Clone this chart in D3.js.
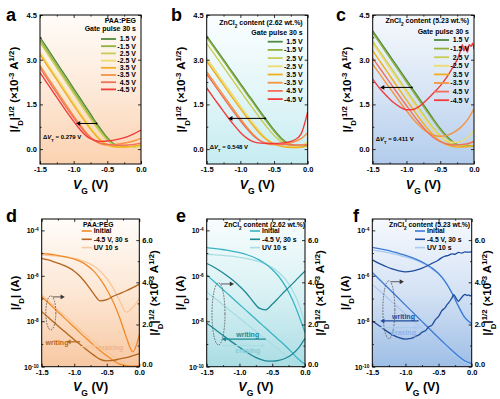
<!DOCTYPE html>
<html>
<head>
<meta charset="utf-8">
<script src="https://cdn.jsdelivr.net/npm/d3@7"></script>
<style>
body { margin: 0; background: #fff; }
svg { font-family: Arial, "Liberation Sans", sans-serif; font-weight: bold; }
</style>
</head>
<body>
<svg id="chart" width="500" height="399"></svg>
<script>
// gate voltage grid shared by most curves
const vg = [-1.5, -1.4, -1.3, -1.2, -1.1, -1.0, -0.9, -0.8, -0.7, -0.6, -0.5, -0.4, -0.3, -0.2, -0.1, 0.0];

const pulseLabels = ["1.5 V", "-1.5 V", "2.5 V", "-2.5 V", "3.5 V", "-3.5 V", "4.5 V", "-4.5 V"];
const pulseColors = ["#4f8a3c", "#8fb03c", "#c9cd55", "#eedb6c", "#f2ae1e", "#f49442", "#f2705a", "#f03c3c"];

// |ID|^1/2 (x10^-3 A^1/2), panel a
const aSeries = [
  [3.75, 3.41, 3.06, 2.72, 2.38, 2.03, 1.69, 1.35, 1.0, 0.68, 0.38, 0.17, 0.1, 0.08, 0.09, 0.12],
  [3.66, 3.32, 2.97, 2.63, 2.29, 1.94, 1.6, 1.26, 0.93, 0.62, 0.34, 0.15, 0.08, 0.07, 0.08, 0.1],
  [3.58, 3.24, 2.89, 2.55, 2.21, 1.86, 1.52, 1.18, 0.86, 0.56, 0.3, 0.13, 0.07, 0.06, 0.07, 0.09],
  [3.25, 2.91, 2.57, 2.23, 1.89, 1.55, 1.21, 0.88, 0.58, 0.32, 0.15, 0.08, 0.06, 0.06, 0.08, 0.12],
  [3.17, 2.83, 2.49, 2.15, 1.81, 1.47, 1.14, 0.82, 0.53, 0.29, 0.14, 0.08, 0.07, 0.08, 0.1, 0.15],
  [2.8, 2.46, 2.12, 1.78, 1.44, 1.11, 0.8, 0.52, 0.3, 0.18, 0.14, 0.15, 0.18, 0.22, 0.28, 0.36],
  [2.72, 2.38, 2.04, 1.7, 1.37, 1.05, 0.75, 0.49, 0.3, 0.2, 0.16, 0.14, 0.13, 0.14, 0.16, 0.2],
  [2.57, 2.23, 1.9, 1.57, 1.24, 0.93, 0.64, 0.42, 0.3, 0.26, 0.27, 0.3, 0.35, 0.42, 0.52, 0.64]
];

// panel b
const bSeries = [
  [3.8, 3.48, 3.16, 2.84, 2.52, 2.2, 1.88, 1.57, 1.25, 0.94, 0.64, 0.38, 0.2, 0.12, 0.1, 0.12],
  [3.75, 3.43, 3.11, 2.79, 2.47, 2.15, 1.83, 1.52, 1.2, 0.89, 0.6, 0.35, 0.18, 0.12, 0.12, 0.15],
  [3.55, 3.23, 2.91, 2.59, 2.27, 1.95, 1.63, 1.32, 1.01, 0.72, 0.46, 0.26, 0.14, 0.1, 0.12, 0.2],
  [3.05, 2.73, 2.41, 2.09, 1.77, 1.45, 1.14, 0.84, 0.56, 0.33, 0.18, 0.1, 0.07, 0.07, 0.1, 0.25],
  [2.95, 2.63, 2.31, 1.99, 1.67, 1.36, 1.05, 0.76, 0.5, 0.3, 0.17, 0.1, 0.06, 0.05, 0.06, 0.1],
  [2.6, 2.28, 1.96, 1.64, 1.33, 1.02, 0.73, 0.47, 0.28, 0.18, 0.15, 0.15, 0.18, 0.24, 0.35, 0.55],
  [2.52, 2.2, 1.88, 1.56, 1.25, 0.95, 0.67, 0.43, 0.27, 0.2, 0.18, 0.16, 0.15, 0.14, 0.14, 0.15],
  [2.05, 1.73, 1.42, 1.11, 0.82, 0.56, 0.36, 0.24, 0.2, 0.19, 0.19, 0.2, 0.23, 0.3, 0.5, 1.25]
];

// panel c (the -4.5 V curve is sampled more densely)
const cRedVg = [-1.5, -1.4, -1.3, -1.2, -1.1, -1.0, -0.9, -0.8, -0.7, -0.6, -0.5, -0.4, -0.3, -0.25, -0.2, -0.17, -0.15, -0.12, -0.1, -0.07, -0.04, -0.02, 0.0];
const cRed = [2.35, 2.05, 1.8, 1.58, 1.42, 1.32, 1.33, 1.45, 1.65, 1.88, 2.12, 2.42, 2.8, 3.0, 3.3, 3.5, 3.3, 3.45, 3.25, 3.5, 3.45, 3.55, 3.35];
const cSeries = [
  [3.97, 3.64, 3.31, 2.98, 2.65, 2.32, 1.99, 1.66, 1.33, 1.0, 0.69, 0.42, 0.22, 0.12, 0.1, 0.1],
  [3.9, 3.57, 3.24, 2.91, 2.58, 2.25, 1.92, 1.59, 1.27, 0.95, 0.65, 0.39, 0.2, 0.11, 0.1, 0.12],
  [3.62, 3.29, 2.96, 2.63, 2.3, 1.97, 1.64, 1.32, 1.0, 0.7, 0.44, 0.25, 0.14, 0.12, 0.15, 0.3],
  [3.55, 3.22, 2.89, 2.56, 2.23, 1.9, 1.57, 1.25, 0.94, 0.65, 0.42, 0.28, 0.22, 0.25, 0.38, 0.62],
  [3.3, 2.97, 2.64, 2.31, 1.98, 1.65, 1.33, 1.01, 0.72, 0.46, 0.27, 0.14, 0.08, 0.07, 0.08, 0.12],
  [2.85, 2.53, 2.21, 1.9, 1.59, 1.29, 1.0, 0.77, 0.58, 0.47, 0.43, 0.46, 0.56, 0.72, 0.97, 1.35],
  [3.05, 2.73, 2.41, 2.09, 1.77, 1.46, 1.15, 0.86, 0.6, 0.39, 0.25, 0.17, 0.14, 0.15, 0.18, 0.25],
  cRedVg.map((v, i) => [v, cRed[i]])
];

// bottom panels: |ID| (A) on log axis, |ID|^1/2 on right axis
const dInitLog = [9.8e-6, 9.1e-6, 8.3e-6, 7.4e-6, 6.5e-6, 5.4e-6, 4.2e-6, 2.8e-6, 1.6e-6, 7.1e-7, 2.5e-7, 7.1e-8, 1.4e-8, 2.0e-9, 4.5e-10, 2.5e-9];
const dWriteLog = [5.9e-6, 5.0e-6, 4.0e-6, 3.2e-6, 2.4e-6, 1.6e-6, 8.9e-7, 4.0e-7, 1.6e-7, 7.9e-8, 8.9e-8, 1.26e-7, 1.66e-7, 2.2e-7, 3.0e-7, 4.3e-7];
const dUvLog = [8.3e-6, 7.9e-6, 7.6e-6, 7.1e-6, 6.5e-6, 5.8e-6, 4.9e-6, 3.8e-6, 2.7e-6, 1.6e-6, 7.6e-7, 2.8e-7, 7.9e-8, 2.5e-8, 4.0e-8, 1.0e-7];
const dInitSqrt = [3.32, 3.03, 2.74, 2.45, 2.16, 1.87, 1.58, 1.3, 1.02, 0.76, 0.52, 0.3, 0.12, 0.05, 0.03, 0.05];
const dWriteSqrt = [2.61, 2.34, 2.07, 1.8, 1.54, 1.28, 1.03, 0.78, 0.55, 0.35, 0.28, 0.3, 0.37, 0.43, 0.52, 0.62];
const dUvSqrt = [3.4, 3.12, 2.84, 2.56, 2.28, 2.0, 1.73, 1.46, 1.2, 0.95, 0.72, 0.5, 0.3, 0.17, 0.2, 0.3];

const eInitLog = [1.74e-5, 1.62e-5, 1.48e-5, 1.35e-5, 1.2e-5, 1.05e-5, 8.7e-6, 6.9e-6, 5.0e-6, 3.3e-6, 1.9e-6, 9.3e-7, 3.5e-7, 1.0e-7, 2.0e-8, 3.2e-9];
const eWriteLog = [3.5e-6, 2.5e-6, 1.66e-6, 1.05e-6, 6.3e-7, 3.5e-7, 1.8e-7, 7.9e-8, 3.8e-8, 3.2e-8, 5.6e-8, 1.1e-7, 2.2e-7, 4.2e-7, 8.3e-7, 1.6e-6];
const eUvLog = [8.9e-6, 8.5e-6, 8.1e-6, 7.6e-6, 7.1e-6, 6.5e-6, 5.8e-6, 5.0e-6, 4.2e-6, 3.2e-6, 2.3e-6, 1.4e-6, 7.1e-7, 2.6e-7, 6.3e-8, 7.9e-9];
const eInitSqrt = [4.35, 4.07, 3.79, 3.51, 3.23, 2.95, 2.67, 2.39, 2.11, 1.83, 1.55, 1.27, 0.99, 0.68, 0.35, 0.12];
const eWriteSqrt = [2.06, 1.83, 1.6, 1.37, 1.14, 0.92, 0.71, 0.52, 0.37, 0.28, 0.26, 0.3, 0.4, 0.58, 0.88, 1.35];
const eUvSqrt = [3.55, 3.3, 3.05, 2.8, 2.55, 2.3, 2.05, 1.8, 1.55, 1.3, 1.05, 0.8, 0.56, 0.34, 0.18, 0.1];

const fInitLog = [1.78e-5, 1.58e-5, 1.38e-5, 1.17e-5, 9.8e-6, 7.9e-6, 6.3e-6, 4.8e-6, 3.4e-6, 2.2e-6, 1.26e-6, 5.6e-7, 1.78e-7, 4.5e-8, 1.4e-8, 7.9e-9];
const fUvLog = [1.35e-5, 1.23e-5, 1.1e-5, 9.5e-6, 8.1e-6, 6.8e-6, 5.5e-6, 4.3e-6, 3.1e-6, 2.0e-6, 1.2e-6, 5.6e-7, 1.9e-7, 5.0e-8, 1.4e-8, 6.3e-9];
const fWriteLogVg = [-1.5, -1.4, -1.3, -1.2, -1.1, -1.0, -0.9, -0.8, -0.7, -0.6, -0.5, -0.45, -0.4, -0.35, -0.3, -0.25, -0.2, -0.15, -0.1, -0.05, 0.0];
const fWriteLog = [5.0e-6, 3.5e-6, 2.6e-6, 2.0e-6, 1.66e-6, 1.5e-6, 1.6e-6, 1.9e-6, 2.5e-6, 3.5e-6, 5.0e-6, 6.3e-6, 7.4e-6, 7.9e-6, 9.3e-6, 8.9e-6, 1.07e-5, 1.0e-5, 1.12e-5, 1.1e-5, 1.17e-5];
const fInitSqrt = [4.47, 4.16, 3.85, 3.54, 3.23, 2.92, 2.61, 2.3, 1.99, 1.68, 1.37, 1.07, 0.78, 0.5, 0.27, 0.15];
const fUvSqrt = [3.9, 3.62, 3.34, 3.06, 2.78, 2.5, 2.22, 1.94, 1.67, 1.4, 1.14, 0.89, 0.65, 0.42, 0.22, 0.1];
const fWriteSqrtVg = [-1.5, -1.4, -1.3, -1.2, -1.1, -1.0, -0.95, -0.9, -0.85, -0.8, -0.75, -0.7, -0.65, -0.6, -0.55, -0.5, -0.45, -0.4, -0.37, -0.35, -0.32, -0.3, -0.27, -0.23, -0.2, -0.17, -0.13, -0.1, -0.07, -0.05, -0.02, 0.0];
const fWriteSqrt = [2.17, 1.95, 1.72, 1.52, 1.38, 1.31, 1.33, 1.35, 1.44, 1.5, 1.63, 1.7, 1.88, 1.97, 2.22, 2.38, 2.66, 2.8, 2.95, 3.02, 3.15, 3.25, 3.42, 3.22, 3.1, 3.2, 3.36, 3.43, 3.37, 3.4, 3.36, 3.4];

const bottomLabels = ["Initial", "-4.5 V, 30 s", "UV 10 s"];

const svg = d3.select("#chart");
const defs = svg.append("defs");

function rich(t, parts) {
  parts.forEach(([s, k]) => {
    const ts = t.append("tspan").text(s);
    if (k && k.includes("i")) ts.attr("font-style", "italic");
    if (k && k.includes("sub")) ts.attr("baseline-shift", "sub").attr("font-size", "68%");
    if (k && k.includes("sup")) ts.attr("baseline-shift", "super").attr("font-size", "68%");
  });
  return t;
}

function toPts(vals, xs) {
  if (Array.isArray(vals[0])) return vals;
  return vals.map((v, i) => [(xs || vg)[i], v]);
}

function background(id, x0, y0, w, h, colors) {
  const lg = defs.append("linearGradient").attr("id", "bg" + id)
    .attr("x1", 0).attr("y1", 0).attr("x2", 0).attr("y2", 1);
  colors.forEach((c, i) => {
    lg.append("stop").attr("offset", (i / (colors.length - 1) * 100) + "%").attr("stop-color", c);
  });
  defs.append("clipPath").attr("id", "clip" + id)
    .append("rect").attr("x", x0).attr("y", y0).attr("width", w).attr("height", h);
  svg.append("rect").attr("x", x0).attr("y", y0).attr("width", w).attr("height", h)
    .attr("fill", `url(#bg${id})`);
}

function styleAxis(g) {
  g.select(".domain").remove();
  g.selectAll(".tick line").attr("stroke", "#000").attr("stroke-width", 0.8);
  g.selectAll("text").attr("font-size", 7.5).attr("font-weight", "bold").attr("fill", "#000")
    .attr("font-family", "Arial, 'Liberation Sans', sans-serif");
}

function xAxes(x, yTop, yBot) {
  const fmt = d => d.toFixed(1);
  svg.append("g").attr("transform", `translate(0,${yBot})`)
    .call(d3.axisBottom(x).tickValues([-1.5, -1, -0.5, 0]).tickSize(-3).tickPadding(3).tickFormat(fmt))
    .call(styleAxis);
  svg.append("g").attr("transform", `translate(0,${yBot})`)
    .call(d3.axisBottom(x).tickValues([-1.25, -0.75, -0.25]).tickSize(-1.6).tickFormat("")).call(styleAxis);
  svg.append("g").attr("transform", `translate(0,${yTop})`)
    .call(d3.axisTop(x).tickValues([-1.5, -1, -0.5, 0]).tickSize(-3).tickFormat("")).call(styleAxis);
  svg.append("g").attr("transform", `translate(0,${yTop})`)
    .call(d3.axisTop(x).tickValues([-1.25, -0.75, -0.25]).tickSize(-1.6).tickFormat("")).call(styleAxis);
}

function xTitle(cx, y) {
  rich(svg.append("text").attr("x", cx).attr("y", y).attr("text-anchor", "middle").attr("font-size", 12.5),
    [["V", "i"], ["G", "sub"], [" (V)"]]);
}

function sqrtTitle(x, cy) {
  rich(svg.append("text").attr("transform", `translate(${x},${cy}) rotate(-90)`)
    .attr("text-anchor", "middle").attr("font-size", 11.5),
    [["|"], ["I", "i"], ["D", "sub"], ["|"], ["1/2", "sup"], [" (\u00d710"], ["-3", "sup"], [" A"], ["1/2", "sup"], [")"]]);
}

function letter(s, x, y) {
  svg.append("text").attr("x", x).attr("y", y).attr("font-size", 18).text(s);
}

function arrowHead(x, y, dir, color) {
  const s = 3;
  svg.append("path")
    .attr("d", `M${x},${y} L${x - dir * s * 1.4},${y - s * 0.8} L${x - dir * s * 1.4},${y + s * 0.8} Z`)
    .attr("fill", color);
}

// ---------- top panels ----------
const topPanels = [
  { id: "a", x0: 40, x1: 141, series: aSeries, bg: ["#fffcf8", "#fde9d8", "#fbd2b0"],
    titles: [[["PAA:PEG"]], [["Gate pulse  30 s"]]], titleY: [22.5, 31], rowTop: 39, rowStep: 7.2,
    dv: { y: 0.86, from: -0.965, to: -0.66, text: "0.279 V", ty: 139 } },
  { id: "b", x0: 206.7, x1: 307.7, series: bSeries, bg: ["#fbfeff", "#e4f6f8", "#c6ecf1"],
    titles: [[["ZnCl"], ["2", "sub"], [" content  (2.62 wt.%)"]], [["Gate pulse  30 s"]]], titleY: [25, 35], rowTop: 41.7, rowStep: 8.2,
    dv: { y: 1.03, from: -1.18, to: -0.63, text: "0.548 V", ty: 149 } },
  { id: "c", x0: 372.7, x1: 474, series: cSeries, bg: ["#f6f9fd", "#d8e5f5", "#b3ccec"],
    titles: [[["ZnCl"], ["2", "sub"], [" content  (5.23 wt.%)"]], [["Gate pulse  30 s"]]], titleY: [23, 34], rowTop: 40, rowStep: 8.6,
    dv: { y: 2.07, from: -1.39, to: -0.92, text: "0.411 V", ty: 140.5 } }
];

const yTop0 = 15, yTop1 = 164;
const letterX = { a: 6, b: 171, c: 336, d: 6, e: 176, f: 353 };

topPanels.forEach(p => {
  const x = d3.scaleLinear().domain([-1.5, 0]).range([p.x0, p.x1]);
  const y = d3.scaleLinear().domain([-0.5, 4.5]).range([yTop1, yTop0]);
  background(p.id, p.x0, yTop0, p.x1 - p.x0, yTop1 - yTop0, p.bg);

  const line = d3.line().x(d => x(d[0])).y(d => y(d[1])).curve(d3.curveMonotoneX);
  const cg = svg.append("g").attr("clip-path", `url(#clip${p.id})`);
  p.series.forEach((vals, i) => {
    cg.append("path").attr("d", line(toPts(vals))).attr("fill", "none")
      .attr("stroke", pulseColors[i]).attr("stroke-width", 1.4);
  });

  // threshold shift arrow
  const ay = y(p.dv.y);
  svg.append("line").attr("x1", x(p.dv.from) + 3).attr("x2", x(p.dv.to)).attr("y1", ay).attr("y2", ay)
    .attr("stroke", "#000").attr("stroke-width", 1);
  arrowHead(x(p.dv.from), ay, -1, "#000");
  svg.append("circle").attr("cx", x(p.dv.to)).attr("cy", ay).attr("r", 1).attr("fill", "#000");
  rich(svg.append("text").attr("x", p.x0 + 3).attr("y", p.dv.ty).attr("font-size", 6),
    [["\u0394"], ["V", "i"], ["T", "sub"], [" = " + p.dv.text]]);

  // legend
  p.titles.forEach((parts, i) => {
    rich(svg.append("text").attr("x", p.x1 - 5).attr("y", p.titleY[i]).attr("text-anchor", "end").attr("font-size", 7), parts);
  });
  pulseLabels.forEach((lab, i) => {
    const ly = p.rowTop + i * p.rowStep;
    svg.append("line").attr("x1", p.x1 - 40).attr("x2", p.x1 - 25).attr("y1", ly).attr("y2", ly)
      .attr("stroke", pulseColors[i]).attr("stroke-width", 1.8);
    svg.append("text").attr("x", p.x1 - 5).attr("y", ly + 2.4).attr("text-anchor", "end")
      .attr("font-size", 7).text(lab);
  });

  xAxes(x, yTop0, yTop1);
  const fmt = d => d.toFixed(1);
  svg.append("g").attr("transform", `translate(${p.x0},0)`)
    .call(d3.axisLeft(y).tickValues([0, 1.5, 3, 4.5]).tickSize(-3).tickPadding(3).tickFormat(fmt)).call(styleAxis);
  svg.append("g").attr("transform", `translate(${p.x0},0)`)
    .call(d3.axisLeft(y).tickValues([0.75, 2.25, 3.75]).tickSize(-1.6).tickFormat("")).call(styleAxis);
  svg.append("g").attr("transform", `translate(${p.x1},0)`)
    .call(d3.axisRight(y).tickValues([0, 1.5, 3, 4.5]).tickSize(-3).tickFormat("")).call(styleAxis);
  svg.append("rect").attr("x", p.x0).attr("y", yTop0).attr("width", p.x1 - p.x0).attr("height", yTop1 - yTop0)
    .attr("fill", "none").attr("stroke", "#000").attr("stroke-width", 1);

  sqrtTitle(p.x0 - 22, (yTop0 + yTop1) / 2);
  xTitle((p.x0 + p.x1) / 2, 189);
  letter(p.id, letterX[p.id], 21);
});

// ---------- bottom panels ----------
const botPanels = [
  { id: "d", x0: 41.7, x1: 139.3, bg: ["#fffcf9", "#fde7d4", "#f7c8a2"],
    colors: ["#f28a26", "#b5651d", "#f8c79c"], eraseText: "#f2b483",
    logs: [dInitLog, dWriteLog, dUvLog], sqrts: [dInitSqrt, dWriteSqrt, dUvSqrt],
    title: [["PAA:PEG"]], titleX: 83, legX: 81.7,
    ell: { v: -1.36, s: 2.55, rx: 5, ry: 17 },
    write: { s: 1.18, from: -1.12, to: -0.91, side: "left" },
    erase: { s: 0.95, from: -0.91, to: -0.66, side: "right" } },
  { id: "e", x0: 206.7, x1: 305, bg: ["#f8fdfd", "#d9f1f4", "#aadde4"],
    colors: ["#38b4c4", "#1d8893", "#a9dde4"], eraseText: "#86ccd5",
    logs: [eInitLog, eWriteLog, eUvLog], sqrts: [eInitSqrt, eWriteSqrt, eUvSqrt],
    title: [["ZnCl"], ["2", "sub"], [" content  (2.62 wt.%)"]], titleX: 224, legX: 250,
    ell: { v: -1.32, s: 2.5, rx: 6.5, ry: 31 },
    write: { s: 1.31, from: -1.27, to: -0.6, side: "above" },
    erase: { s: 1.0, from: -1.27, to: -0.6, side: "below" } },
  { id: "f", x0: 372.3, x1: 471.7, bg: ["#f6f9fe", "#d4e2f4", "#9ebee6"],
    colors: ["#3b7ad6", "#1f4c9c", "#abcaf0"], eraseText: "#8db4ea",
    logs: [fInitLog, fWriteLogVg.map((v, i) => [v, fWriteLog[i]]), fUvLog],
    sqrts: [fInitSqrt, fWriteSqrtVg.map((v, i) => [v, fWriteSqrt[i]]), fUvSqrt],
    title: [["ZnCl"], ["2", "sub"], [" content  (5.23 wt.%)"]], titleX: 389, legX: 415,
    ell: { v: -1.25, s: 2.7, rx: 6, ry: 29 },
    write: { s: 2.17, from: -1.38, to: -0.8, side: "above" },
    erase: { s: 1.85, from: -1.38, to: -0.8, side: "below" } }
];

const yBot0 = 219, yBot1 = 366.7;

botPanels.forEach(p => {
  const x = d3.scaleLinear().domain([-1.5, 0]).range([p.x0, p.x1]);
  const yL = d3.scaleLog().domain([1e-10, Math.pow(10, -3.5)]).range([yBot1, yBot0]);
  const yR = d3.scaleLinear().domain([0, 7]).range([yBot1, yBot0]);
  background(p.id, p.x0, yBot0, p.x1 - p.x0, yBot1 - yBot0, p.bg);

  const cg = svg.append("g").attr("clip-path", `url(#clip${p.id})`);
  const lineL = d3.line().x(d => x(d[0])).y(d => yL(d[1])).curve(d3.curveMonotoneX);
  const lineR = d3.line().x(d => x(d[0])).y(d => yR(d[1])).curve(d3.curveMonotoneX);
  [2, 0, 1].forEach(i => {
    cg.append("path").attr("d", lineL(toPts(p.logs[i]))).attr("fill", "none")
      .attr("stroke", p.colors[i]).attr("stroke-width", 1.3);
    cg.append("path").attr("d", lineR(toPts(p.sqrts[i]))).attr("fill", "none")
      .attr("stroke", p.colors[i]).attr("stroke-width", 1.3);
  });

  // dashed ellipse with arrow towards the right axis
  const ex = x(p.ell.v), ey = yR(p.ell.s);
  svg.append("ellipse").attr("cx", ex).attr("cy", ey).attr("rx", p.ell.rx).attr("ry", p.ell.ry)
    .attr("fill", "none").attr("stroke", "#555").attr("stroke-width", 0.9).attr("stroke-dasharray", "1.6,1.2");
  svg.append("line").attr("x1", ex + 2).attr("x2", ex + p.ell.rx + 6).attr("y1", ey - p.ell.ry + 1).attr("y2", ey - p.ell.ry + 1)
    .attr("stroke", "#333").attr("stroke-width", 0.8);
  arrowHead(ex + p.ell.rx + 9, ey - p.ell.ry + 1, 1, "#333");

  // writing / erasing arrows
  [["writing", p.write, p.colors[1], p.colors[1], -1], ["erasing", p.erase, p.colors[2], p.eraseText, 1]].forEach(([lab, a, col, tcol, dir]) => {
    const ay = yR(a.s);
    svg.append("line").attr("x1", x(a.from) + (dir < 0 ? 3 : 0)).attr("x2", x(a.to) - (dir > 0 ? 3 : 0))
      .attr("y1", ay).attr("y2", ay).attr("stroke", col).attr("stroke-width", 1.2);
    arrowHead(dir < 0 ? x(a.from) : x(a.to), ay, dir, col);
    const t = svg.append("text").attr("font-size", 7).attr("fill", tcol).text(lab);
    if (a.side === "left") t.attr("x", x(a.from) + 2).attr("y", ay + 3.5).attr("text-anchor", "end");
    if (a.side === "right") t.attr("x", x(a.to) + 2).attr("y", ay + 3.5);
    if (a.side === "above") t.attr("x", (x(a.from) + x(a.to)) / 2 + 4).attr("y", ay - 2).attr("text-anchor", "middle");
    if (a.side === "below") t.attr("x", (x(a.from) + x(a.to)) / 2 + 4).attr("y", ay + 7.5).attr("text-anchor", "middle");
  });

  // legend
  rich(svg.append("text").attr("x", p.titleX).attr("y", 226.5).attr("font-size", 6.8), p.title);
  bottomLabels.forEach((lab, i) => {
    const ly = 231 + i * 8.3;
    svg.append("line").attr("x1", p.legX).attr("x2", p.legX + 10).attr("y1", ly).attr("y2", ly)
      .attr("stroke", p.colors[i]).attr("stroke-width", 1.6);
    svg.append("text").attr("x", p.legX + 12).attr("y", ly + 2.4).attr("font-size", 6.8).text(lab);
  });

  xAxes(x, yBot0, yBot1);
  const logMajor = [1e-10, 1e-8, 1e-6, 1e-4];
  svg.append("g").attr("transform", `translate(${p.x0},0)`)
    .call(d3.axisLeft(yL).tickValues(logMajor).tickSize(-3).tickFormat("")).call(styleAxis);
  svg.append("g").attr("transform", `translate(${p.x0},0)`)
    .call(d3.axisLeft(yL).tickValues([1e-9, 1e-7, 1e-5]).tickSize(-1.6).tickFormat("")).call(styleAxis);
  logMajor.forEach(v => {
    rich(svg.append("text").attr("x", p.x0 - 3).attr("y", yL(v) + 2.8).attr("text-anchor", "end").attr("font-size", 7),
      [["10"], ["-" + Math.round(-Math.log10(v)), "sup"]]);
  });
  const ra = svg.append("g").attr("transform", `translate(${p.x1},0)`)
    .call(d3.axisRight(yR).tickValues([0, 2, 4, 6]).tickSize(-3).tickPadding(3)).call(styleAxis);
  ra.selectAll(".tick text").filter(d => d === 0).attr("y", -2.5);
  svg.append("g").attr("transform", `translate(${p.x1},0)`)
    .call(d3.axisRight(yR).tickValues([1, 3, 5]).tickSize(-1.6).tickFormat("")).call(styleAxis);
  svg.append("rect").attr("x", p.x0).attr("y", yBot0).attr("width", p.x1 - p.x0).attr("height", yBot1 - yBot0)
    .attr("fill", "none").attr("stroke", "#000").attr("stroke-width", 1);

  rich(svg.append("text").attr("transform", `translate(${p.x0 - 23},${(yBot0 + yBot1) / 2}) rotate(-90)`)
    .attr("text-anchor", "middle").attr("font-size", 11.5), [["|"], ["I", "i"], ["D", "sub"], ["| (A)"]]);
  sqrtTitle(p.x1 + 19, (yBot0 + yBot1) / 2);
  xTitle((p.x0 + p.x1) / 2, 391);
  letter(p.id, letterX[p.id], 222);
});
</script>
</body>
</html>
